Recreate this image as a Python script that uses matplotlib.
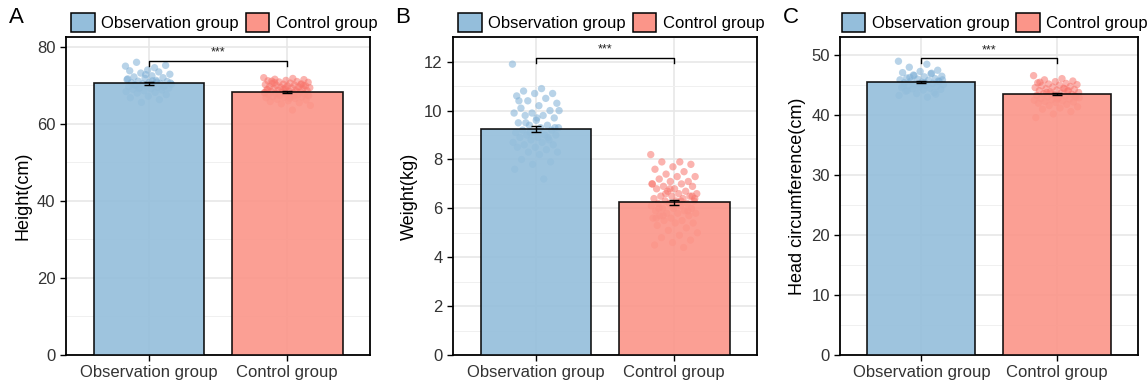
from matplotlib import pyplot as plt
from matplotlib.patches import Patch
from matplotlib.ticker import MultipleLocator
import numpy as np

groups = ['Observation group', 'Control group']

height_obs = [75.0, 74.6, 76.0, 75.2, 74.0, 73.8, 73.5, 73.2, 72.9, 72.5, 72.2, 72.0, 71.8,
              71.5, 71.3, 71.1, 71.0, 70.8, 70.7, 70.5, 70.4, 70.3, 70.2, 70.0, 69.9, 69.8,
              69.7, 69.5, 69.4, 69.3, 69.1, 69.0, 68.8, 68.6, 68.4, 68.2, 68.0, 67.6, 67.2,
              66.8, 66.3, 65.6, 70.6, 71.2, 70.1, 69.6, 72.8, 71.7, 70.9, 69.2]
height_ctrl = [72.0, 71.8, 71.6, 71.5, 71.3, 71.2, 71.0, 70.9, 70.8, 70.6, 70.5, 70.4, 70.3,
               70.2, 70.1, 70.0, 69.9, 69.8, 69.7, 69.6, 69.5, 69.4, 69.3, 69.2, 69.1, 69.0,
               68.9, 68.8, 68.7, 68.6, 68.5, 68.4, 68.3, 68.2, 68.1, 68.0, 67.9, 67.8, 67.7,
               67.6, 67.5, 67.4, 67.3, 67.2, 67.1, 67.0, 66.9, 66.8, 66.6, 66.4, 66.2, 66.0,
               65.8, 65.5, 65.2, 64.8, 63.6, 70.7, 69.9, 69.4, 68.9, 68.4, 67.9, 67.5, 66.7,
               71.1, 70.2, 69.0, 68.1, 67.3]
weight_obs = [11.9, 10.9, 10.8, 10.7, 10.7, 10.6, 10.5, 10.4, 10.3, 10.2, 10.1, 10.0, 9.9,
              9.9, 9.8, 9.8, 9.7, 9.6, 9.5, 9.4, 9.4, 9.3, 9.3, 9.2, 9.2, 9.1, 9.1, 9.0,
              9.0, 9.0, 8.9, 8.9, 8.8, 8.8, 8.7, 8.7, 8.6, 8.6, 8.5, 8.5, 8.4, 8.3, 8.3,
              8.2, 8.0, 7.9, 7.8, 7.6, 7.2, 9.5, 9.3, 9.7, 10.4, 8.9, 9.1, 10.0]
weight_ctrl = [8.2, 7.9, 7.9, 7.8, 7.7, 7.6, 7.5, 7.4, 7.3, 7.3, 7.2, 7.1, 7.1, 7.0, 7.0,
               6.9, 6.9, 6.8, 6.8, 6.7, 6.7, 6.6, 6.6, 6.5, 6.5, 6.5, 6.4, 6.4, 6.3, 6.3,
               6.3, 6.2, 6.2, 6.2, 6.1, 6.1, 6.0, 6.0, 6.0, 5.9, 5.9, 5.8, 5.8, 5.8, 5.7,
               5.7, 5.6, 5.6, 5.5, 5.5, 5.4, 5.4, 5.3, 5.2, 5.1, 5.0, 4.9, 4.8, 4.7, 4.6,
               4.5, 4.4, 6.6, 6.4, 6.2, 6.0, 5.9, 6.8, 7.0, 6.3, 5.7, 6.5, 6.1, 5.6]
head_obs = [49.0, 48.5, 48.0, 47.5, 47.3, 47.1, 46.9, 46.7, 46.5, 46.4, 46.2, 46.1, 46.0,
            45.9, 45.8, 45.7, 45.6, 45.5, 45.4, 45.3, 45.2, 45.1, 45.0, 44.9, 44.8, 44.7,
            44.6, 44.5, 44.4, 44.3, 44.2, 44.0, 43.8, 43.6, 43.3, 43.0, 46.3, 45.7, 45.2,
            44.8, 47.0, 46.6, 45.9, 45.4, 44.1, 43.5]
head_ctrl = [46.6, 46.1, 45.9, 45.7, 45.6, 45.4, 45.3, 45.2, 45.1, 45.0, 44.9, 44.8, 44.7,
             44.6, 44.5, 44.4, 44.3, 44.2, 44.1, 44.0, 43.9, 43.8, 43.7, 43.6, 43.5, 43.4,
             43.3, 43.2, 43.1, 43.0, 42.9, 42.8, 42.7, 42.6, 42.5, 42.4, 42.3, 42.2, 42.1,
             42.0, 41.8, 41.6, 41.4, 41.2, 41.0, 40.6, 40.2, 39.6, 44.4, 43.8, 43.2, 42.7,
             45.5, 44.1, 43.6, 42.9]

height_means = [70.5, 68.3]
weight_means = [9.25, 6.25]
head_means = [45.5, 43.5]

BAR_COLORS = ['#94bedb', '#fb9589']
DOT_COLORS = ['#7fb0d6', '#f8766d']

panels = [
    ('A', 'Height(cm)', [height_obs, height_ctrl], height_means, 82.5, 20, 10, 76.4, 1.3),
    ('B', 'Weight(kg)', [weight_obs, weight_ctrl], weight_means, 13.0, 2, 1, 12.15, 0.22),
    ('C', 'Head circumference(cm)', [head_obs, head_ctrl], head_means, 53.0, 10, 5, 49.5, 0.8),
]
axes_boxes = [
    [0.0575, 0.0827, 0.265, 0.821],
    [0.3946, 0.0827, 0.265, 0.821],
    [0.7320, 0.0827, 0.259, 0.821],
]


def jitter(n, width=0.34):
    # deterministic low-discrepancy spread instead of random jitter
    idx = np.arange(n)
    return ((idx * 0.6180339887) % 1.0 - 0.5) * width


def draw_panel(fig, box, letter, ylabel, values, means, ymax, major, minor, bracket_y, tick_drop):
    ax = fig.add_axes(box)
    x = np.arange(1, 3)

    for pos, vals, col in zip(x, values, DOT_COLORS):
        vals = np.asarray(vals)
        ax.scatter(pos + jitter(len(vals)), vals, s=28, color=col, alpha=0.55,
                   edgecolors='none', zorder=2)

    ax.bar(x, means, width=0.8, color=BAR_COLORS, edgecolor='black', linewidth=1.2,
           alpha=0.9, zorder=3)

    sems = [np.std(v, ddof=1) / np.sqrt(len(v)) for v in values]
    ax.errorbar(x, means, yerr=sems, fmt='none', ecolor='black', elinewidth=1,
                capsize=3.5, capthick=1, zorder=4)

    ax.plot([1, 1, 2, 2], [bracket_y - tick_drop, bracket_y, bracket_y, bracket_y - tick_drop],
            color='black', linewidth=1, zorder=5)
    ax.text(1.5, bracket_y + tick_drop * 0.4, '***', ha='center', va='bottom', fontsize=9,
            color='#222222')

    ax.set_xlim(0.4, 2.6)
    ax.set_ylim(0, ymax)
    ax.set_xticks(x)
    ax.set_xticklabels(groups)
    ax.yaxis.set_major_locator(MultipleLocator(major))
    ax.yaxis.set_minor_locator(MultipleLocator(minor))
    ax.tick_params(axis='y', which='minor', length=0)
    ax.tick_params(axis='both', which='major', length=4, width=1, colors='black',
                   labelsize=12, labelcolor='#333333')
    ax.set_ylabel(ylabel, fontsize=13, color='black')

    ax.grid(which='major', color='#e6e6e6', linewidth=1.1, zorder=0)
    ax.grid(which='minor', axis='y', color='#f0f0f0', linewidth=0.7, zorder=0)
    ax.set_axisbelow(True)
    for sp in ax.spines.values():
        sp.set_linewidth(1.3)
        sp.set_color('black')

    handles = [Patch(facecolor=c, edgecolor='black', linewidth=1.1) for c in BAR_COLORS]
    ax.legend(handles, groups, loc='lower center', bbox_to_anchor=(0.52, 0.99), ncol=2,
              frameon=False, fontsize=12, handlelength=1.4, handleheight=1.4,
              handletextpad=0.4, columnspacing=0.4, borderaxespad=0.1)

    fig.text(box[0] - 0.05, 0.955, letter, fontsize=16, ha='left', va='center')


def main():
    plt.rcParams['font.family'] = ['Liberation Sans', 'DejaVu Sans']
    fig = plt.figure(figsize=(11.48, 3.87), dpi=100)
    for box, spec in zip(axes_boxes, panels):
        draw_panel(fig, box, *spec)
    fig.savefig('out.png', dpi=100)


if __name__ == '__main__':
    main()
